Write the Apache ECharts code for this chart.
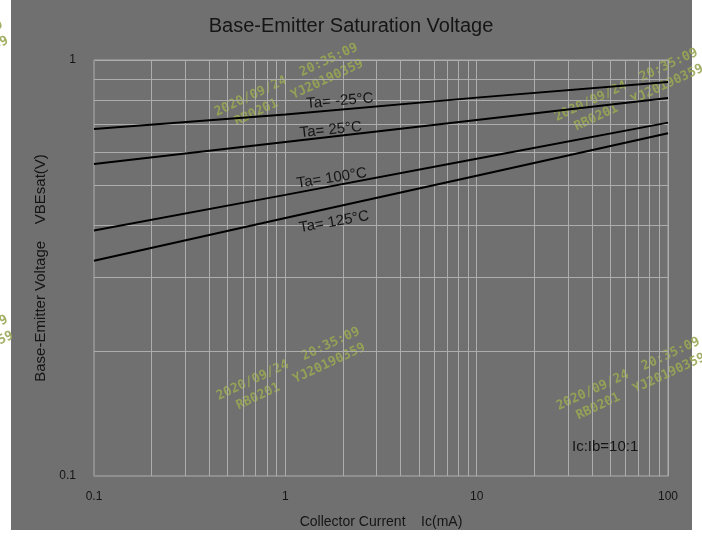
<!DOCTYPE html>
<html>
<head>
<meta charset="utf-8">
<script src="https://cdn.jsdelivr.net/npm/echarts@6/dist/echarts.min.js"></script>
<style>
html,body{margin:0;padding:0;background:#ffffff;}
#chart{width:702px;height:544px;}
</style>
</head>
<body>
<div id="chart"></div>
<script>
// ---- data ----
const currentMA = [0.1, 1, 10, 100];
const seriesNames = ['Ta= -25\u00B0C', 'Ta= 25\u00B0C', 'Ta= 100\u00B0C', 'Ta= 125\u00B0C'];
const vbeM25 = [0.683, 0.740, 0.812, 0.885];
const vbe25 = [0.562, 0.635, 0.717, 0.810];
const vbe100 = [0.389, 0.474, 0.579, 0.707];
const vbe125 = [0.329, 0.417, 0.527, 0.667];
const labelAnchorX = [1.93, 1.73, 1.75, 1.80];
const labelAnchorY = [0.797, 0.679, 0.520, 0.408];
const xMinorGrid = [0.2,0.3,0.4,0.5,0.6,0.7,0.8,0.9,2,3,4,5,6,7,8,9,20,30,40,50,60,70,80,90];
const yMinorGrid = [0.2,0.3,0.4,0.5,0.6,0.7,0.8,0.9];
const titleText = 'Base-Emitter Saturation Voltage';
const xName = 'Collector Current    Ic(mA)';
const yName = 'Base-Emitter Voltage    VBEsat(V)';
const noteText = 'Ic:Ib=10:1';
const wmLine1 = '2020/09/24  20:35:09';
const wmLine2 = 'RB0201  YJ20190359';

const allSeries = [vbeM25, vbe25, vbe100, vbe125];
const labelRot = [5, 6, 9, 10];

const chart = echarts.init(document.getElementById('chart'), null, {renderer: 'canvas'});
const GRID = '#adadad';
const TXT = '#151515';
const FONT = 'Liberation Sans';

const series = allSeries.map((vals, i) => ({
  type: 'line',
  name: seriesNames[i],
  data: currentMA.map((c, j) => [c, vals[j]]),
  showSymbol: false,
  symbol: 'none',
  lineStyle: {color: '#000000', width: 2},
  z: 5,
  silent: true,
  markPoint: {
    symbol: 'circle', symbolSize: 0,
    data: [{coord: [labelAnchorX[i], labelAnchorY[i]]}],
    label: {show: true, position: 'inside', formatter: seriesNames[i], color: TXT,
      fontSize: 15, fontFamily: FONT, rotate: labelRot[i]}
  }
}));

series.push({
  type: 'line', data: [], silent: true, z: 1,
  markLine: {
    silent: true, symbol: ['none','none'], animation: false,
    label: {show: false},
    lineStyle: {color: GRID, width: 1, type: 'solid'},
    data: xMinorGrid.map(v => ({xAxis: v})).concat(yMinorGrid.map(v => ({yAxis: v})))
  }
});

function watermark(cx, cy) {
  return {
    type: 'group', x: cx, y: cy, rotation: 25 * Math.PI / 180, silent: true, z: 100,
    children: [
      {type: 'text', x: 0, y: -9, style: {text: wmLine1, fill: '#98a653', font: 'bold 13px "DejaVu Sans Mono"', textAlign: 'center', textVerticalAlign: 'middle', opacity: 0.9}},
      {type: 'text', x: 6, y: 8, style: {text: wmLine2, fill: '#98a653', font: 'bold 13px "DejaVu Sans Mono"', textAlign: 'center', textVerticalAlign: 'middle', opacity: 0.9}}
    ]
  };
}

chart.setOption({
  animation: false,
  backgroundColor: '#ffffff',
  title: {text: titleText, left: 'center', top: 11,
    textStyle: {color: TXT, fontSize: 20, fontWeight: 'normal', fontFamily: FONT}},
  grid: {left: 94, right: 34, top: 60, bottom: 68, show: true, borderColor: GRID, borderWidth: 1, backgroundColor: 'transparent'},
  xAxis: {
    type: 'log', logBase: 10, min: 0.1, max: 100,
    name: xName, nameLocation: 'middle', nameGap: 39,
    nameTextStyle: {color: TXT, fontSize: 14, fontFamily: FONT},
    axisLine: {show: true, lineStyle: {color: '#8f8f8f'}},
    axisTick: {show: false},
    axisLabel: {color: TXT, fontSize: 12, fontFamily: FONT, margin: 15, formatter: v => String(+v.toPrecision(3))},
    splitLine: {show: true, lineStyle: {color: GRID, width: 1}}
  },
  yAxis: {
    type: 'log', logBase: 10, min: 0.1, max: 1,
    name: yName, nameLocation: 'middle', nameGap: 46, nameRotate: 90,
    nameTextStyle: {color: TXT, fontSize: 15, fontFamily: FONT},
    axisLine: {show: true, lineStyle: {color: '#8f8f8f'}},
    axisTick: {show: false},
    axisLabel: {color: TXT, fontSize: 12, fontFamily: FONT, margin: 18, formatter: v => String(+v.toPrecision(3))},
    splitLine: {show: true, lineStyle: {color: GRID, width: 1}}
  },
  graphic: [
    {type: 'rect', shape: {x: 11, y: 0, width: 681, height: 530}, style: {fill: '#707070'}, z: -100, silent: true},
    {type: 'text', left: 572, top: 439, style: {text: noteText, fill: TXT, font: '15px "Liberation Sans"'}, z: 50},
    watermark(290, 88),
    watermark(630, 93),
    watermark(292, 372),
    watermark(632, 382),
    watermark(-60, 360),
    watermark(-65, 65)
  ],
  series: series
});
</script>
</body>
</html>
